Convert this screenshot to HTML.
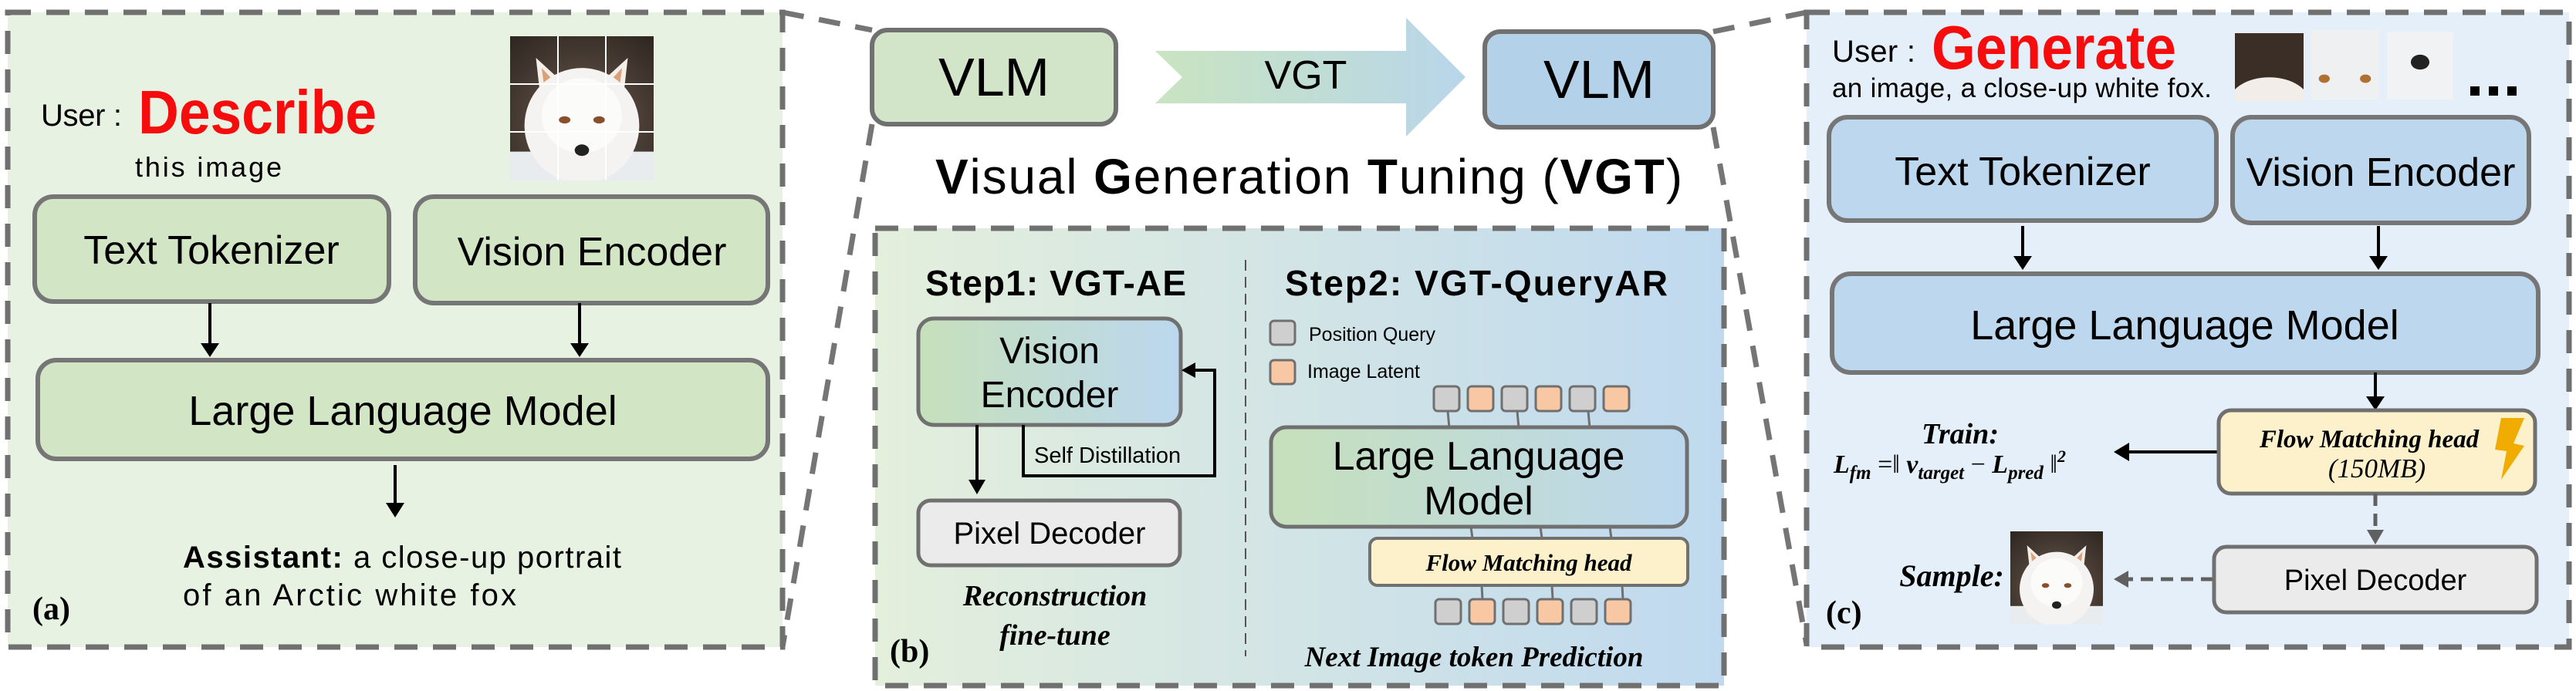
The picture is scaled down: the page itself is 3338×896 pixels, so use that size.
<!DOCTYPE html>
<html><head><meta charset="utf-8"><style>
html,body{margin:0;padding:0;background:#fff}
svg{display:block}
text{font-family:"Liberation Sans",sans-serif}
.ser{font-family:"Liberation Serif",serif}
</style></head><body>
<svg width="3338" height="896" viewBox="0 0 3338 896" xmlns="http://www.w3.org/2000/svg">
<defs>
<linearGradient id="gb" x1="0" x2="1" y1="0" y2="0"><stop offset="0" stop-color="#c6e0bb"/><stop offset="1" stop-color="#bcd7ee"/></linearGradient>
<linearGradient id="pb" x1="0" x2="1" y1="0" y2="0"><stop offset="0" stop-color="#e4efdc"/><stop offset="1" stop-color="#bfd9ef"/></linearGradient>
<linearGradient id="ar" x1="0" x2="1" y1="0" y2="0"><stop offset="0" stop-color="#c9e4c0"/><stop offset="1" stop-color="#b8d6ea"/></linearGradient>
<radialGradient id="bg" cx="0.5" cy="0.6" r="0.8"><stop offset="0" stop-color="#6a5a4e"/><stop offset="1" stop-color="#2c241f"/></radialGradient>
<symbol id="fox" viewBox="0 0 100 100" preserveAspectRatio="none">
<rect width="100" height="100" fill="url(#bg)"/>
<rect y="80" width="100" height="20" fill="#e9ecef"/>
<polygon points="18,15 40,35 22,50" fill="#f4eee8"/><polygon points="82,15 60,35 78,50" fill="#f4eee8"/>
<polygon points="22,22 35,36 25,44" fill="#d9a07a"/><polygon points="78,22 65,36 75,44" fill="#d9a07a"/>
<ellipse cx="50" cy="62" rx="40" ry="40" fill="#f5f3f1"/>
<ellipse cx="50" cy="55" rx="28" ry="26" fill="#fbfbfa"/>
<ellipse cx="38" cy="58" rx="4" ry="2.5" fill="#8a4f2a"/><ellipse cx="62" cy="58" rx="4" ry="2.5" fill="#8a4f2a"/>
<ellipse cx="50" cy="79" rx="5" ry="4" fill="#222"/>
</symbol>
</defs>

<g stroke="#757575" stroke-width="7" stroke-dasharray="28,20" fill="none">
<line x1="1014" y1="16" x2="1130" y2="39"/>
<line x1="1130" y1="161" x2="1014" y2="839"/>
<line x1="2220" y1="41" x2="2341" y2="16"/>
<line x1="2220" y1="165" x2="2341" y2="836"/>
</g>

<!-- Panel A -->
<rect x="10" y="16" width="1004" height="823" fill="#e8f2e2" stroke="#707070" stroke-width="7" stroke-dasharray="30,20"/>
<text x="53" y="163" font-size="40" textLength="105">User :</text>
<text x="179" y="173" font-size="80" font-weight="bold" fill="#f50c0c" textLength="309" lengthAdjust="spacingAndGlyphs">Describe</text>
<text x="175" y="229" font-size="36" textLength="190">this  image</text>
<use href="#fox" x="661" y="47" width="186" height="187"/>
<g stroke="#fff" stroke-width="2"><line x1="723" y1="47" x2="723" y2="234"/><line x1="785" y1="47" x2="785" y2="234"/><line x1="661" y1="109" x2="847" y2="109"/><line x1="661" y1="171" x2="847" y2="171"/></g>
<g stroke="#767676" stroke-width="6" fill="#d2e5c5">
<rect x="45" y="255" width="459" height="136" rx="24"/>
<rect x="538" y="255" width="457" height="138" rx="24"/>
<rect x="49" y="467" width="946" height="128" rx="24"/>
</g>
<text x="274" y="342" font-size="52" text-anchor="middle">Text Tokenizer</text>
<text x="767" y="344" font-size="52" text-anchor="middle">Vision Encoder</text>
<text x="522" y="551" font-size="54" text-anchor="middle">Large Language Model</text>
<g stroke="#000" stroke-width="4"><line x1="272" y1="393" x2="272" y2="448"/><line x1="751" y1="393" x2="751" y2="448"/><line x1="512" y1="603" x2="512" y2="655"/></g>
<g fill="#000"><polygon points="260,445 284,445 272,463"/><polygon points="739,445 763,445 751,463"/><polygon points="500,652 524,652 512,671"/></g>
<text x="237" y="736" font-size="40" textLength="568"><tspan font-weight="bold">Assistant:</tspan> a close-up portrait</text>
<text x="237" y="785" font-size="40" textLength="432">of an Arctic white fox</text>
<text class="ser" x="42" y="803" font-size="42" font-weight="bold">(a)</text>

<!-- Top middle -->
<rect x="1130" y="39" width="316" height="122" rx="20" fill="#d3e5c8" stroke="#707070" stroke-width="6"/>
<text x="1288" y="124" font-size="70" text-anchor="middle">VLM</text>
<polygon points="1497,66 1822,66 1822,23 1899,100 1822,177 1822,134 1497,134 1532,100" fill="url(#ar)"/>
<text x="1692" y="115" font-size="52" text-anchor="middle">VGT</text>
<rect x="1924" y="41" width="296" height="124" rx="20" fill="#b4d1ea" stroke="#707070" stroke-width="6"/>
<text x="2072" y="127" font-size="70" text-anchor="middle">VLM</text>
<text x="1696" y="251" font-size="64" text-anchor="middle" textLength="968"><tspan font-weight="bold">V</tspan>isual <tspan font-weight="bold">G</tspan>eneration <tspan font-weight="bold">T</tspan>uning (<tspan font-weight="bold">VGT</tspan>)</text>

<!-- Panel B -->
<rect x="1134" y="296" width="1100" height="593" fill="url(#pb)" stroke="#707070" stroke-width="7" stroke-dasharray="30,20"/>
<line x1="1614" y1="337" x2="1614" y2="851" stroke="#555" stroke-width="2" stroke-dasharray="14,8"/>
<text x="1368" y="383" font-size="46" font-weight="bold" text-anchor="middle" textLength="338">Step1: VGT-AE</text>
<text x="1913" y="383" font-size="46" font-weight="bold" text-anchor="middle" textLength="496">Step2: VGT-QueryAR</text>
<rect x="1190" y="413" width="340" height="138" rx="20" fill="url(#gb)" stroke="#707070" stroke-width="5"/>
<text x="1360" y="471" font-size="48" text-anchor="middle">Vision</text>
<text x="1360" y="528" font-size="48" text-anchor="middle">Encoder</text>
<polyline points="1326,551 1326,617 1574,617 1574,480 1545,480" fill="none" stroke="#000" stroke-width="4"/>
<polygon points="1531,480 1549,470 1549,490" fill="#000"/>
<text x="1340" y="600" font-size="29">Self  Distillation</text>
<line x1="1266" y1="551" x2="1266" y2="625" stroke="#000" stroke-width="4"/>
<polygon points="1255,622 1277,622 1266,641" fill="#000"/>
<rect x="1190" y="649" width="339" height="84" rx="16" fill="#ebebeb" stroke="#707070" stroke-width="5"/>
<text x="1360" y="705" font-size="40" text-anchor="middle">Pixel Decoder</text>
<text class="ser" x="1367" y="785" font-size="38" font-weight="bold" font-style="italic" text-anchor="middle">Reconstruction</text>
<text class="ser" x="1367" y="836" font-size="38" font-weight="bold" font-style="italic" text-anchor="middle">fine-tune</text>
<text class="ser" x="1153" y="858" font-size="42" font-weight="bold">(b)</text>
<rect x="1646" y="416" width="32" height="31" rx="5" fill="#cfcfcf" stroke="#707070" stroke-width="3"/>
<text x="1696" y="442" font-size="25">Position Query</text>
<rect x="1646" y="467" width="32" height="31" rx="5" fill="#f8c8a4" stroke="#707070" stroke-width="3"/>
<text x="1694" y="490" font-size="25">Image Latent</text>
<g stroke="#707070" stroke-width="3">
<line x1="1876" y1="533" x2="1878" y2="555"/><line x1="1966" y1="533" x2="1968" y2="555"/><line x1="2058" y1="533" x2="2060" y2="555"/>
<line x1="1906" y1="683" x2="1908" y2="698"/><line x1="1996" y1="683" x2="1998" y2="698"/><line x1="2086" y1="683" x2="2088" y2="698"/>
<line x1="1920" y1="759" x2="1921" y2="777"/><line x1="2011" y1="759" x2="2012" y2="777"/><line x1="2102" y1="759" x2="2103" y2="777"/>
</g>
<g stroke="#707070" stroke-width="3">
<rect x="1858" y="501" width="33" height="32" rx="5" fill="#cfcfcf"/><rect x="1902" y="501" width="33" height="32" rx="5" fill="#f8c8a4"/>
<rect x="1946" y="501" width="33" height="32" rx="5" fill="#cfcfcf"/><rect x="1990" y="501" width="33" height="32" rx="5" fill="#f8c8a4"/>
<rect x="2034" y="501" width="33" height="32" rx="5" fill="#cfcfcf"/><rect x="2078" y="501" width="33" height="32" rx="5" fill="#f8c8a4"/>
<rect x="1860" y="777" width="33" height="32" rx="5" fill="#cfcfcf"/><rect x="1904" y="777" width="33" height="32" rx="5" fill="#f8c8a4"/>
<rect x="1948" y="777" width="33" height="32" rx="5" fill="#cfcfcf"/><rect x="1992" y="777" width="33" height="32" rx="5" fill="#f8c8a4"/>
<rect x="2036" y="777" width="33" height="32" rx="5" fill="#cfcfcf"/><rect x="2080" y="777" width="33" height="32" rx="5" fill="#f8c8a4"/>
</g>
<rect x="1647" y="554" width="539" height="129" rx="20" fill="url(#gb)" stroke="#707070" stroke-width="5"/>
<text x="1916" y="609" font-size="52" text-anchor="middle">Large Language</text>
<text x="1916" y="667" font-size="52" text-anchor="middle">Model</text>
<rect x="1775" y="698" width="412" height="61" rx="10" fill="#fdf1cc" stroke="#707070" stroke-width="4"/>
<text class="ser" x="1981" y="740" font-size="31" font-weight="bold" font-style="italic" text-anchor="middle">Flow Matching head</text>
<text class="ser" x="1910" y="864" font-size="37" font-weight="bold" font-style="italic" text-anchor="middle">Next Image token Prediction</text>

<!-- Panel C -->
<rect x="2341" y="16" width="988" height="823" fill="#e5eff9" stroke="#707070" stroke-width="7" stroke-dasharray="30,20"/>
<text x="2374" y="80" font-size="40" textLength="108">User :</text>
<text x="2503" y="89" font-size="80" font-weight="bold" fill="#f50c0c" textLength="317" lengthAdjust="spacingAndGlyphs">Generate</text>
<text x="2374" y="126" font-size="35" textLength="492">an image, a close-up white fox.</text>
<svg x="2896" y="43" width="89" height="88" viewBox="0 0 100 100" preserveAspectRatio="none"><rect width="100" height="100" fill="#3a2e26"/><ellipse cx="50" cy="105" rx="60" ry="40" fill="#f2ede8"/></svg>
<svg x="2994" y="39" width="89" height="90" viewBox="0 0 100 100" preserveAspectRatio="none"><rect width="100" height="100" fill="#eef0f1"/><ellipse cx="20" cy="70" rx="8" ry="6" fill="#b07030"/><ellipse cx="80" cy="70" rx="8" ry="6" fill="#b07030"/></svg>
<svg x="3093" y="41" width="86" height="88" viewBox="0 0 100 100" preserveAspectRatio="none"><rect width="100" height="100" fill="#f1f2f3"/><ellipse cx="50" cy="45" rx="14" ry="11" fill="#222"/></svg>
<g fill="#000"><rect x="3201" y="112" width="12" height="12"/><rect x="3225" y="112" width="12" height="12"/><rect x="3249" y="112" width="12" height="12"/></g>
<g stroke="#767676" stroke-width="6" fill="#bdd7ee">
<rect x="2370" y="152" width="502" height="134" rx="24"/>
<rect x="2893" y="152" width="384" height="137" rx="24"/>
<rect x="2374" y="355" width="915" height="128" rx="24"/>
</g>
<text x="2621" y="240" font-size="52" text-anchor="middle">Text Tokenizer</text>
<text x="3085" y="241" font-size="52" text-anchor="middle">Vision Encoder</text>
<text x="2831" y="440" font-size="54" text-anchor="middle">Large Language Model</text>
<g stroke="#000" stroke-width="4"><line x1="2621" y1="293" x2="2621" y2="335"/><line x1="3082" y1="293" x2="3082" y2="335"/><line x1="3078" y1="483" x2="3078" y2="518"/><line x1="2875" y1="586" x2="2755" y2="586"/></g>
<g fill="#000"><polygon points="2609,332 2633,332 2621,350"/><polygon points="3070,332 3094,332 3082,350"/><polygon points="3066,514 3090,514 3078,532"/><polygon points="2739,586 2759,574 2759,598"/></g>
<rect x="2875" y="532" width="410" height="108" rx="16" fill="#fdf1cc" stroke="#707070" stroke-width="5"/>
<text class="ser" x="3070" y="580" font-size="33" font-weight="bold" font-style="italic" text-anchor="middle">Flow Matching head</text>
<text class="ser" x="3080" y="619" font-size="35" font-style="italic" text-anchor="middle">(150MB)</text>
<polygon points="3241,542 3271,542 3257,575 3271,578 3241,622 3248,585 3233,583" fill="#f0ac00"/>
<text class="ser" x="2540" y="575" font-size="38" font-weight="bold" font-style="italic" text-anchor="middle">Train:</text>
<text class="ser" x="2376" y="613" font-size="34" font-weight="bold" font-style="italic">L<tspan font-size="25" dy="8">fm</tspan><tspan dy="-8" font-style="normal" font-weight="normal"> =‖ </tspan>v<tspan font-size="25" dy="8">target</tspan><tspan dy="-8" font-style="normal" font-weight="normal"> − </tspan>L<tspan font-size="25" dy="8">pred</tspan><tspan dy="-8" font-style="normal" font-weight="normal"> ‖</tspan><tspan font-size="22" dy="-14">2</tspan></text>
<g stroke="#606060" stroke-width="5" stroke-dasharray="16,10"><line x1="3078" y1="640" x2="3078" y2="690"/><line x1="2868" y1="751" x2="2758" y2="751"/></g>
<g fill="#606060"><polygon points="3067,687 3089,687 3078,706"/><polygon points="2739,751 2758,740 2758,762"/></g>
<rect x="2869" y="709" width="418" height="85" rx="16" fill="#ebebeb" stroke="#707070" stroke-width="5"/>
<text x="3078" y="765" font-size="38" text-anchor="middle">Pixel Decoder</text>
<use href="#fox" x="2605" y="689" width="120" height="121"/>
<text class="ser" x="2529" y="760" font-size="40" font-weight="bold" font-style="italic" text-anchor="middle">Sample:</text>
<text class="ser" x="2366" y="808" font-size="42" font-weight="bold">(c)</text>
</svg>
</body></html>
